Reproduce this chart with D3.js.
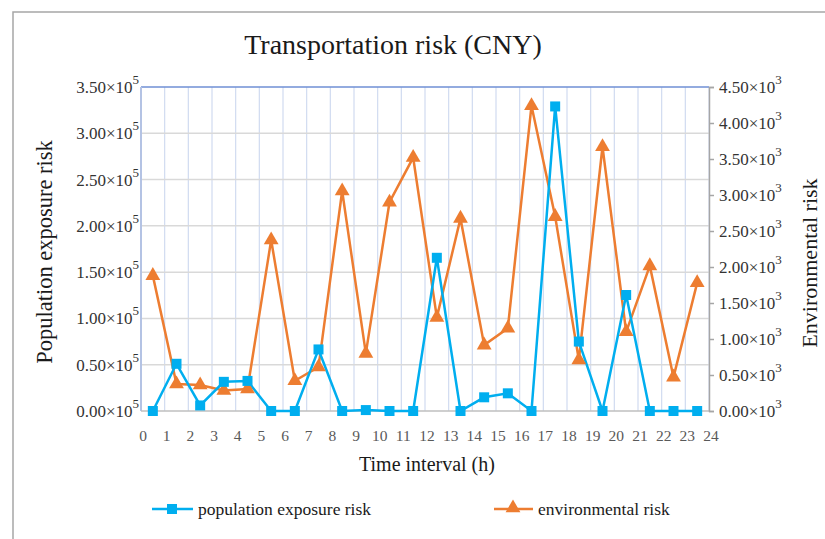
<!DOCTYPE html>
<html>
<head>
<meta charset="utf-8">
<script src="https://cdn.jsdelivr.net/npm/d3@7"></script>
<style>
body { margin: 0; background: #fff; }
text { font-family: "Liberation Serif", "Times New Roman", serif; }
</style>
</head>
<body>
<svg id="chart" width="825" height="539"></svg>
<script>
// time interval midpoints (h)
var hours = [0.5,1.5,2.5,3.5,4.5,5.5,6.5,7.5,8.5,9.5,10.5,11.5,12.5,13.5,14.5,15.5,16.5,17.5,18.5,19.5,20.5,21.5,22.5,23.5];
var popRisk = [0,51000,6000,31500,32500,0,0,66500,0,1000,0,0,165500,0,14800,19100,0,329000,75000,0,125300,0,0,0];
var envRisk = [1880,375,360,285,305,2375,420,610,3055,800,2900,3520,1300,2675,915,1150,4240,2700,710,3670,1100,2015,470,1780];
var xTicks = d3.range(0, 25);
var leftTicks = [0,0.5,1,1.5,2,2.5,3,3.5];      // x10^5
var rightTicks = [0,0.5,1,1.5,2,2.5,3,3.5,4,4.5]; // x10^3

function drawChart() {
  var blue = "#00aeef", orange = "#ed7d31";
  var svg = d3.select("#chart");

  var pLeft = 141, pRight = 709, pTop = 87, pBottom = 411;

  // outer frame
  svg.append("path")
    .attr("d", "M13,539 L13,12 L825,12")
    .attr("fill", "none").attr("stroke", "#a6a6a6").attr("stroke-width", 1.5);

  var x = d3.scaleLinear().domain([0, 24]).range([pLeft, pRight]);
  var yL = d3.scaleLinear().domain([0, 3.5e5]).range([pBottom, pTop]);
  var yR = d3.scaleLinear().domain([0, 4500]).range([pBottom, pTop]);

  // vertical grid
  svg.append("g").selectAll("line")
    .data(xTicks.slice(1))
    .enter().append("line")
    .attr("x1", d => x(d)).attr("x2", d => x(d))
    .attr("y1", pTop).attr("y2", pBottom)
    .attr("stroke", "#d0dbf0").attr("stroke-width", 1.2);

  // horizontal grid
  svg.append("g").selectAll("line")
    .data(leftTicks.slice(1, -1))
    .enter().append("line")
    .attr("x1", pLeft).attr("x2", pRight)
    .attr("y1", d => yL(d * 1e5)).attr("y2", d => yL(d * 1e5))
    .attr("stroke", "#d9d9d9").attr("stroke-width", 1.5);

  // plot top border
  svg.append("line").attr("x1", pLeft).attr("x2", pRight).attr("y1", pTop).attr("y2", pTop)
    .attr("stroke", "#6f8fd4").attr("stroke-width", 1.5);
  // left axis line
  svg.append("line").attr("x1", pLeft).attr("x2", pLeft).attr("y1", pTop).attr("y2", pBottom)
    .attr("stroke", "#b4c3e4").attr("stroke-width", 2);
  // bottom axis line
  svg.append("line").attr("x1", pLeft).attr("x2", pRight).attr("y1", pBottom).attr("y2", pBottom)
    .attr("stroke", "#bfbfbf").attr("stroke-width", 1.5);

  // right axis
  var rAxis = d3.axisRight(yR).tickValues(rightTicks.map(d => d * 1000)).tickSize(5).tickFormat("");
  var rg = svg.append("g").attr("transform", "translate(" + pRight + ",0)").call(rAxis);
  rg.selectAll("path, line").attr("stroke", "#a6a6a6").attr("stroke-width", 1.5);

  // tick labels with superscripts
  function sciLabel(g, val, exp, xPos, yPos, anchor) {
    var t = g.append("text").attr("x", xPos).attr("y", yPos).attr("text-anchor", anchor)
      .attr("font-size", 17).attr("fill", "#333");
    t.append("tspan").text(val.toFixed(2) + "×10");
    t.append("tspan").attr("dy", -9).attr("font-size", 13).text(exp);
  }
  var lg = svg.append("g");
  leftTicks.forEach(function(d) { sciLabel(lg, d, "5", 139, yL(d * 1e5) + 6, "end"); });
  var rlg = svg.append("g");
  rightTicks.forEach(function(d) { sciLabel(rlg, d, "3", 719, yR(d * 1000) + 6, "start"); });

  // x tick labels
  svg.append("g").selectAll("text")
    .data(xTicks)
    .enter().append("text")
    .attr("x", d => x(d) + 2).attr("y", 441)
    .attr("text-anchor", "middle").attr("font-size", 15.5).attr("fill", "#595959")
    .text(d => d);

  // series lines
  var linePop = d3.line().x((d, i) => x(hours[i])).y(d => yL(d));
  var lineEnv = d3.line().x((d, i) => x(hours[i])).y(d => yR(d));

  svg.append("path").datum(envRisk).attr("d", lineEnv)
    .attr("fill", "none").attr("stroke", orange).attr("stroke-width", 2.5);
  svg.append("path").datum(popRisk).attr("d", linePop)
    .attr("fill", "none").attr("stroke", blue).attr("stroke-width", 2.5);

  var tri = d3.symbol().type(d3.symbolTriangle).size(95);
  svg.append("g").selectAll("path")
    .data(envRisk)
    .enter().append("path")
    .attr("d", tri)
    .attr("transform", (d, i) => "translate(" + x(hours[i]) + "," + yR(d) + ")")
    .attr("fill", orange);

  svg.append("g").selectAll("rect")
    .data(popRisk)
    .enter().append("rect")
    .attr("x", (d, i) => x(hours[i]) - 5).attr("y", d => yL(d) - 5)
    .attr("width", 10).attr("height", 10)
    .attr("fill", blue);

  // titles
  svg.append("text").attr("x", 393).attr("y", 54).attr("text-anchor", "middle")
    .attr("font-size", 28).attr("fill", "#1a1a1a").text("Transportation risk (CNY)");
  svg.append("text").attr("x", 427).attr("y", 471).attr("text-anchor", "middle")
    .attr("font-size", 20).attr("fill", "#1a1a1a").text("Time interval (h)");
  svg.append("text").attr("transform", "translate(52,252) rotate(-90)").attr("text-anchor", "middle")
    .attr("font-size", 22.5).attr("fill", "#1a1a1a").text("Population exposure risk");
  svg.append("text").attr("transform", "translate(817,263) rotate(-90)").attr("text-anchor", "middle")
    .attr("font-size", 22).attr("fill", "#1a1a1a").text("Environmental risk");

  // legend
  var leg = svg.append("g");
  leg.append("line").attr("x1", 152).attr("x2", 193).attr("y1", 509).attr("y2", 509)
    .attr("stroke", blue).attr("stroke-width", 2.5);
  leg.append("rect").attr("x", 167).attr("y", 504).attr("width", 10).attr("height", 10).attr("fill", blue);
  leg.append("text").attr("x", 198).attr("y", 515).attr("font-size", 17.5).attr("fill", "#1a1a1a")
    .text("population exposure risk");
  leg.append("line").attr("x1", 494).attr("x2", 533).attr("y1", 509).attr("y2", 509)
    .attr("stroke", orange).attr("stroke-width", 2.5);
  leg.append("path").attr("d", tri).attr("transform", "translate(513,508)").attr("fill", orange);
  leg.append("text").attr("x", 538).attr("y", 515).attr("font-size", 17.5).attr("fill", "#1a1a1a")
    .text("environmental risk");
}
drawChart();
</script>
</body>
</html>
